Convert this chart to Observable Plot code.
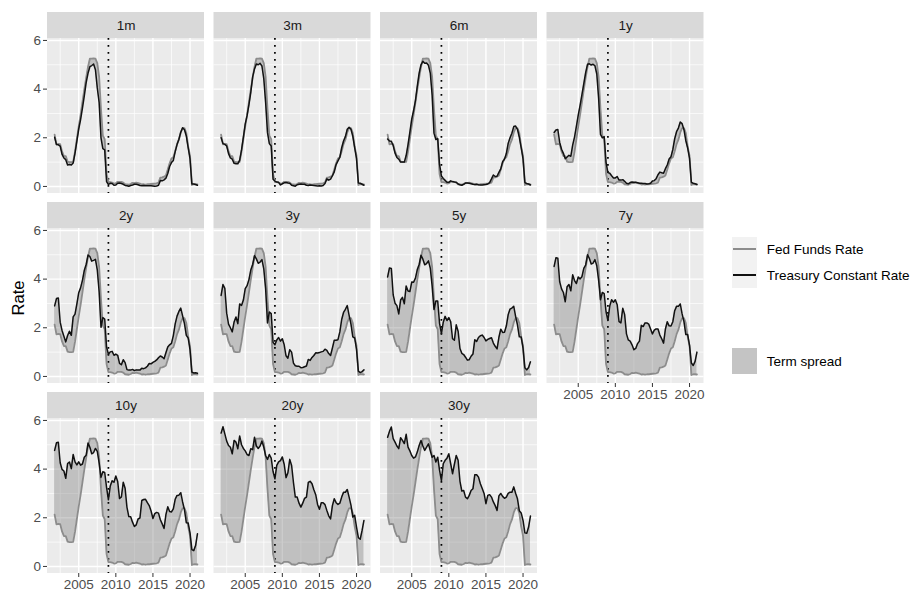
<!DOCTYPE html>
<html>
<head>
<meta charset="utf-8">
<script src="https://cdn.jsdelivr.net/npm/d3@7"></script>
<script src="https://cdn.jsdelivr.net/npm/@observablehq/plot@0.6"></script>
<style>
  html, body { margin: 0; padding: 0; background: #ffffff; }
  #wrap { position: relative; width: 913px; height: 591px; font-family: "Liberation Sans", Arial, Helvetica, sans-serif; }
  #chart { position: absolute; left: 0; top: 0; }
  .ytitle { position: absolute; left: 17.5px; top: 298px; transform: translate(-50%, -50%) rotate(-90deg); font-size: 16.5px; color: #000; white-space: nowrap; }
  .legend-row { position: absolute; left: 731.5px; height: 25.7px; display: flex; align-items: center; }
  .key { width: 25.7px; height: 25.7px; background: #F2F2F2; position: relative; flex: none; }
  .key .ln { position: absolute; left: 1.5px; right: 1.5px; top: 50%; height: 2px; margin-top: -1px; }
  .key .fl { position: absolute; left: 0; right: 0; top: 0; bottom: 0; }
  .lab { margin-left: 9.5px; font-size: 13.5px; color: #000; white-space: nowrap; }
</style>
</head>
<body>
<div id="wrap">
  <div id="chart"></div>
  <div class="ytitle">Rate</div>
</div>
<script>
// ---- data (quarterly averages, quarter start dates) ----
const quarters = [
  2001.75,
  2002, 2002.25, 2002.5, 2002.75,
  2003, 2003.25, 2003.5, 2003.75,
  2004, 2004.25, 2004.5, 2004.75,
  2005, 2005.25, 2005.5, 2005.75,
  2006, 2006.25, 2006.5, 2006.75,
  2007, 2007.25, 2007.5, 2007.75,
  2008, 2008.25, 2008.5, 2008.75,
  2009, 2009.25, 2009.5, 2009.75,
  2010, 2010.25, 2010.5, 2010.75,
  2011, 2011.25, 2011.5, 2011.75,
  2012, 2012.25, 2012.5, 2012.75,
  2013, 2013.25, 2013.5, 2013.75,
  2014, 2014.25, 2014.5, 2014.75,
  2015, 2015.25, 2015.5, 2015.75,
  2016, 2016.25, 2016.5, 2016.75,
  2017, 2017.25, 2017.5, 2017.75,
  2018, 2018.25, 2018.5, 2018.75,
  2019, 2019.25, 2019.5, 2019.75,
  2020, 2020.25, 2020.5, 2020.75,
  2021
];

const fedFunds = [
  2.13,
  1.73, 1.75, 1.74, 1.44,
  1.25, 1.25, 1.02, 1.00,
  1.00, 1.01, 1.43, 1.95,
  2.47, 2.94, 3.46, 3.98,
  4.46, 4.91, 5.25, 5.25,
  5.26, 5.25, 5.07, 4.50,
  3.18, 2.09, 1.94, 0.51,
  0.18, 0.18, 0.16, 0.12,
  0.13, 0.19, 0.19, 0.19,
  0.16, 0.09, 0.08, 0.07,
  0.10, 0.15, 0.14, 0.16,
  0.14, 0.12, 0.08, 0.09,
  0.07, 0.09, 0.09, 0.10,
  0.11, 0.12, 0.13, 0.16,
  0.36, 0.37, 0.40, 0.45,
  0.70, 0.95, 1.15, 1.20,
  1.45, 1.74, 1.92, 2.22,
  2.40, 2.40, 2.19, 1.64,
  1.26, 0.06, 0.09, 0.09,
  0.08
];

const t1m = [
  2.02,
  1.72, 1.71, 1.66, 1.32,
  1.17, 1.10, 0.88, 0.90,
  0.88, 0.96, 1.37, 1.86,
  2.36, 2.75, 3.22, 3.72,
  4.27, 4.65, 4.92, 4.97,
  5.03, 4.80, 4.05, 3.45,
  2.00, 1.55, 1.50, 0.20,
  0.08, 0.13, 0.12, 0.05,
  0.06, 0.13, 0.14, 0.12,
  0.09, 0.04, 0.03, 0.01,
  0.04, 0.06, 0.09, 0.09,
  0.07, 0.04, 0.03, 0.04,
  0.03, 0.03, 0.03, 0.03,
  0.02, 0.01, 0.02, 0.05,
  0.24, 0.23, 0.27, 0.34,
  0.53, 0.82, 0.98, 1.07,
  1.43, 1.72, 1.94, 2.23,
  2.41, 2.33, 2.07, 1.60,
  1.13, 0.10, 0.10, 0.08,
  0.05
];

const t3m = [
  2.00,
  1.76, 1.73, 1.66, 1.35,
  1.17, 1.12, 0.95, 0.93,
  0.93, 1.08, 1.50, 2.03,
  2.57, 2.91, 3.36, 3.87,
  4.50, 4.83, 5.03, 5.00,
  5.06, 4.95, 4.43, 3.44,
  2.21, 1.76, 1.66, 0.30,
  0.22, 0.18, 0.17, 0.06,
  0.11, 0.15, 0.16, 0.14,
  0.13, 0.05, 0.03, 0.01,
  0.07, 0.09, 0.10, 0.09,
  0.09, 0.05, 0.04, 0.06,
  0.05, 0.04, 0.03, 0.02,
  0.03, 0.02, 0.04, 0.12,
  0.31, 0.26, 0.30, 0.44,
  0.60, 0.90, 1.05, 1.20,
  1.59, 1.87, 2.05, 2.35,
  2.43, 2.35, 2.06, 1.59,
  1.14, 0.14, 0.13, 0.09,
  0.05
];

const t6m = [
  1.95,
  1.87, 1.86, 1.68, 1.37,
  1.19, 1.12, 1.00, 1.00,
  1.00, 1.27, 1.72, 2.23,
  2.77, 3.12, 3.53, 4.12,
  4.66, 5.00, 5.14, 5.06,
  5.07, 4.98, 4.66, 3.75,
  2.19, 1.93, 1.96, 0.91,
  0.43, 0.33, 0.25, 0.17,
  0.17, 0.23, 0.20, 0.18,
  0.17, 0.10, 0.07, 0.05,
  0.09, 0.14, 0.14, 0.13,
  0.11, 0.09, 0.08, 0.09,
  0.07, 0.06, 0.06, 0.07,
  0.08, 0.10, 0.16, 0.31,
  0.47, 0.41, 0.42, 0.58,
  0.72, 1.02, 1.12, 1.35,
  1.77, 2.00, 2.19, 2.46,
  2.48, 2.35, 2.02, 1.60,
  1.13, 0.16, 0.12, 0.10,
  0.06
];

const t1y = [
  2.22,
  2.32, 2.34, 1.81, 1.53,
  1.36, 1.14, 1.21, 1.28,
  1.24, 1.70, 2.03, 2.47,
  2.93, 3.33, 3.77, 4.23,
  4.68, 5.02, 5.04, 4.99,
  5.02, 4.96, 4.62, 3.62,
  2.14, 2.00, 2.05, 0.99,
  0.57, 0.54, 0.44, 0.35,
  0.35, 0.41, 0.26, 0.26,
  0.28, 0.21, 0.13, 0.11,
  0.16, 0.18, 0.17, 0.17,
  0.15, 0.13, 0.13, 0.12,
  0.12, 0.10, 0.11, 0.13,
  0.22, 0.24, 0.32, 0.48,
  0.59, 0.56, 0.54, 0.73,
  0.88, 1.13, 1.22, 1.52,
  1.96, 2.25, 2.40, 2.65,
  2.58, 2.33, 1.88, 1.58,
  1.15, 0.17, 0.13, 0.11,
  0.08
];

const t2y = [
  2.90,
  3.20, 3.22, 2.23, 1.89,
  1.65, 1.42, 1.68, 1.86,
  1.69, 2.45, 2.56, 2.98,
  3.44, 3.64, 3.95, 4.36,
  4.60, 4.99, 4.93, 4.74,
  4.77, 4.81, 4.38, 3.48,
  2.02, 2.42, 2.36, 1.21,
  0.91, 1.01, 1.03, 0.87,
  0.92, 0.87, 0.54, 0.48,
  0.69, 0.57, 0.28, 0.26,
  0.26, 0.29, 0.24, 0.27,
  0.26, 0.26, 0.34, 0.32,
  0.35, 0.42, 0.53, 0.52,
  0.58, 0.62, 0.68, 0.77,
  0.84, 0.80, 0.73, 0.97,
  1.21, 1.30, 1.36, 1.68,
  2.16, 2.48, 2.67, 2.81,
  2.49, 2.17, 1.69, 1.58,
  1.09, 0.18, 0.14, 0.15,
  0.13
];

const t3y = [
  3.33,
  3.78, 3.62, 2.60, 2.15,
  2.00, 1.83, 2.24, 2.44,
  2.17, 2.98, 2.92, 3.14,
  3.61, 3.73, 3.98, 4.37,
  4.60, 4.96, 4.83, 4.65,
  4.70, 4.80, 4.42, 3.60,
  2.20, 2.65, 2.58, 1.40,
  1.30, 1.50, 1.60, 1.45,
  1.55, 1.30, 0.85, 0.75,
  1.10, 1.00, 0.55, 0.44,
  0.42, 0.42, 0.36, 0.37,
  0.40, 0.43, 0.70, 0.66,
  0.78, 0.86, 0.97, 0.96,
  0.98, 1.01, 1.03, 1.12,
  1.07, 0.94, 0.86, 1.17,
  1.49, 1.49, 1.51, 1.83,
  2.34, 2.63, 2.76, 2.91,
  2.51, 2.15, 1.63, 1.58,
  1.11, 0.22, 0.16, 0.20,
  0.27
];

const t5y = [
  4.09,
  4.46, 4.44, 3.35, 3.01,
  2.91, 2.57, 3.14, 3.25,
  2.99, 3.72, 3.51, 3.49,
  3.88, 3.87, 4.04, 4.39,
  4.60, 4.98, 4.82, 4.59,
  4.64, 4.75, 4.45, 3.72,
  2.75, 3.10, 3.10, 2.18,
  1.76, 2.23, 2.47, 2.30,
  2.42, 2.25, 1.55, 1.49,
  2.12, 1.86, 1.15, 0.95,
  0.90, 0.79, 0.67, 0.69,
  0.83, 0.92, 1.51, 1.44,
  1.60, 1.67, 1.70, 1.60,
  1.46, 1.52, 1.56, 1.59,
  1.37, 1.24, 1.13, 1.61,
  1.94, 1.81, 1.82, 2.07,
  2.54, 2.77, 2.81, 2.88,
  2.47, 2.12, 1.63, 1.62,
  1.16, 0.36, 0.27, 0.37,
  0.60
];

const t7y = [
  4.52,
  4.88, 4.86, 3.89, 3.60,
  3.45, 3.07, 3.69, 3.78,
  3.52, 4.18, 3.94, 3.82,
  4.09, 4.01, 4.10, 4.44,
  4.58, 5.00, 4.85, 4.62,
  4.66, 4.80, 4.55, 3.95,
  3.15, 3.45, 3.40, 2.65,
  2.30, 2.90, 3.15, 3.05,
  3.15, 2.95, 2.25, 2.20,
  2.80, 2.55, 1.75, 1.50,
  1.45, 1.30, 1.10, 1.15,
  1.35, 1.45, 2.10, 2.05,
  2.20, 2.20, 2.15, 1.95,
  1.75, 1.90, 1.95, 1.95,
  1.70, 1.55, 1.37, 1.95,
  2.25, 2.08, 2.07, 2.25,
  2.70, 2.88, 2.88, 2.98,
  2.57, 2.25, 1.72, 1.72,
  1.28, 0.55, 0.45, 0.62,
  1.00
];

const t10y = [
  4.77,
  5.08, 5.10, 4.26, 3.99,
  3.92, 3.62, 4.23, 4.29,
  4.02, 4.60, 4.30, 4.17,
  4.30, 4.16, 4.21, 4.49,
  4.57, 5.07, 4.90, 4.63,
  4.68, 4.85, 4.73, 4.26,
  3.66, 3.89, 3.86, 3.25,
  2.74, 3.31, 3.52, 3.46,
  3.72, 3.49, 2.79, 2.86,
  3.46, 3.21, 2.43, 2.05,
  2.04, 1.82, 1.64, 1.71,
  1.95, 1.99, 2.71, 2.75,
  2.76, 2.62, 2.50, 2.28,
  1.97, 2.17, 2.22, 2.19,
  1.92, 1.75, 1.56, 2.13,
  2.45, 2.26, 2.24, 2.37,
  2.76, 2.92, 2.93, 3.03,
  2.65, 2.33, 1.80, 1.79,
  1.38, 0.69, 0.65, 0.86,
  1.34
];

const t20y = [
  5.48,
  5.74, 5.45, 5.15, 4.97,
  4.90, 4.63, 5.18, 5.11,
  4.84, 5.36, 5.00, 4.85,
  4.75, 4.60, 4.56, 4.84,
  4.80, 5.31, 4.95, 4.85,
  4.95, 5.15, 4.90, 4.55,
  4.40, 4.60, 4.45, 3.90,
  3.60, 4.15, 4.30, 4.35,
  4.50, 4.20, 3.65, 3.85,
  4.40, 4.15, 3.45, 2.85,
  2.85, 2.60, 2.44, 2.60,
  2.80, 2.85, 3.45, 3.50,
  3.40, 3.15, 2.95, 2.55,
  2.35, 2.62, 2.62, 2.54,
  2.30, 2.08, 1.95, 2.50,
  2.78, 2.62, 2.55, 2.60,
  2.85, 3.05, 3.05, 3.16,
  2.85, 2.52, 2.03, 2.10,
  1.62, 1.18, 1.12, 1.48,
  1.89
];

const t30y = [
  5.31,
  5.55, 5.73, 5.25, 5.11,
  4.95, 4.84, 5.29, 5.18,
  5.05, 5.43, 4.90, 4.75,
  4.56, 4.45, 4.50, 4.70,
  4.97, 5.18, 4.95, 4.77,
  4.90, 5.04, 4.75, 4.49,
  4.56, 4.29, 4.49, 3.95,
  3.53, 4.22, 4.36, 4.45,
  4.63, 4.22, 3.81, 4.20,
  4.56, 4.36, 3.50, 3.10,
  3.12, 2.85, 2.78, 2.92,
  3.12, 3.19, 3.77, 3.77,
  3.67, 3.40, 3.20, 3.00,
  2.58, 2.92, 2.95, 2.85,
  2.65, 2.50, 2.30, 2.90,
  3.00, 2.88, 2.80, 2.85,
  3.00, 3.05, 3.05, 3.27,
  3.01, 2.78, 2.29, 2.20,
  1.89, 1.38, 1.36, 1.62,
  2.07
];

const panelLabels = ["1m", "3m", "6m", "1y", "2y", "3y", "5y", "7y", "10y", "20y", "30y"];
const treasurySeries = [t1m, t3m, t6m, t1y, t2y, t3y, t5y, t7y, t10y, t20y, t30y];

const xTicks = [2005, 2010, 2015, 2020];
const xMinor = [2002.5, 2007.5, 2012.5, 2017.5];
const yTicks = [0, 2, 4, 6];
const yMinor = [1, 3, 5];
const crisisDate = 2009;

const legendItems = ["Fed Funds Rate", "Treasury Constant Rate"];
const spreadLabel = "Term spread";

// ---- build tables ----
const NCOL = 4;
const panels = panelLabels.map((label, i) => ({label, fx: i % NCOL, fy: Math.floor(i / NCOL), tr: treasurySeries[i]}));
const rows = panels.flatMap(p => quarters.map((t, j) => ({fx: p.fx, fy: p.fy, t, fed: fedFunds[j], tr: p.tr[j]})));

const xDom = [2000.79, 2021.95];
const yDom = [-0.29, 6.08];
const panelH = 155, panelW = 157;
const unitY = (yDom[1] - yDom[0]) / panelH;  // data units per pixel
const unitX = (xDom[1] - xDom[0]) / panelW;
const xMid = (xDom[0] + xDom[1]) / 2;

const cross = (ps, vals) => ps.flatMap(p => vals.map(v => ({fx: p.fx, fy: p.fy, v})));
const gridXMajor = cross(panels, xTicks);
const gridXMinor = cross(panels, xMinor);
const gridYMajor = cross(panels, yTicks);
const gridYMinor = cross(panels, yMinor);
const yAxisPanels = panels.filter(p => p.fx === 0);
const xAxisPanels = panels.filter(p => !panels.some(q => q.fx === p.fx && q.fy === p.fy + 1));
const yAxisData = cross(yAxisPanels, yTicks);
const xAxisData = cross(xAxisPanels, xTicks);

const FONT = '"Liberation Sans", Arial, Helvetica, sans-serif';
const fedColor = "#8c8c8c";
const trColor = "#111111";
const spreadFill = "#808080";
const spreadOpacity = 0.4;

const chart = Plot.plot({
  width: 710,
  height: 591,
  marginTop: 38,
  marginLeft: 47,
  marginRight: 6.5,
  marginBottom: 18,
  x: {domain: xDom, axis: null},
  y: {domain: yDom, axis: null},
  fx: {domain: [0, 1, 2, 3], paddingInner: 9.5 / 166.5, paddingOuter: 0, round: false, axis: null},
  fy: {domain: [0, 1, 2], paddingInner: 35 / 190, paddingOuter: 0, round: false, axis: null},
  style: {fontFamily: FONT, fontSize: "13.5px", background: "transparent", overflow: "visible"},
  marks: [
    // panel backgrounds
    Plot.rect(panels, {fx: "fx", fy: "fy", x1: () => xDom[0], x2: () => xDom[1], y1: () => yDom[0], y2: () => yDom[1], fill: "#EBEBEB"}),
    // minor grid
    Plot.ruleX(gridXMinor, {fx: "fx", fy: "fy", x: "v", stroke: "#ffffff", strokeWidth: 0.7}),
    Plot.ruleY(gridYMinor, {fx: "fx", fy: "fy", y: "v", stroke: "#ffffff", strokeWidth: 0.7}),
    // major grid
    Plot.ruleX(gridXMajor, {fx: "fx", fy: "fy", x: "v", stroke: "#ffffff", strokeWidth: 1.4}),
    Plot.ruleY(gridYMajor, {fx: "fx", fy: "fy", y: "v", stroke: "#ffffff", strokeWidth: 1.4}),
    // strips
    Plot.rect(panels, {fx: "fx", fy: "fy", x1: () => xDom[0], x2: () => xDom[1], y1: () => yDom[1], y2: () => yDom[1] + 26 * unitY, fill: "#D9D9D9"}),
    Plot.text(panels, {fx: "fx", fy: "fy", x: () => xMid, y: () => yDom[1] + 13 * unitY, text: "label", fill: "#1A1A1A", fontSize: 13.5}),
    // term spread
    Plot.areaY(rows, {fx: "fx", fy: "fy", x: "t", y1: "fed", y2: "tr", fill: spreadFill, fillOpacity: spreadOpacity}),
    // crisis marker
    Plot.ruleX(panels, {fx: "fx", fy: "fy", x: () => crisisDate, stroke: "#000", strokeWidth: 1.7, strokeDasharray: "1.7,5.3"}),
    // lines
    Plot.lineY(rows, {fx: "fx", fy: "fy", x: "t", y: "fed", stroke: fedColor, strokeWidth: 1.8}),
    Plot.lineY(rows, {fx: "fx", fy: "fy", x: "t", y: "tr", stroke: trColor, strokeWidth: 1.5}),
    // y axis
    Plot.ruleY(yAxisData, {fx: "fx", fy: "fy", y: "v", x1: () => xDom[0] - 4 * unitX, x2: () => xDom[0], stroke: "#333333", strokeWidth: 1}),
    Plot.text(yAxisData, {fx: "fx", fy: "fy", y: "v", x: () => xDom[0], dx: -6.5, textAnchor: "end", text: d => String(d.v), fill: "#4D4D4D", fontSize: 13.5}),
    // x axis
    Plot.ruleX(xAxisData, {fx: "fx", fy: "fy", x: "v", y1: () => yDom[0], y2: () => yDom[0] - 4 * unitY, stroke: "#333333", strokeWidth: 1}),
    Plot.text(xAxisData, {fx: "fx", fy: "fy", x: "v", y: () => yDom[0], dy: 6, lineAnchor: "top", text: d => String(d.v), fill: "#4D4D4D", fontSize: 13.5})
  ]
});
document.getElementById("chart").appendChild(chart);

// ---- legend (HTML) ----
const wrap = document.getElementById("wrap");
const legendTops = [236.6, 262.3];
legendItems.forEach((name, i) => {
  const row = document.createElement("div");
  row.className = "legend-row";
  row.style.top = legendTops[i] + "px";
  const key = document.createElement("div");
  key.className = "key";
  const ln = document.createElement("div");
  ln.className = "ln";
  ln.style.background = i === 0 ? fedColor : trColor;
  key.appendChild(ln);
  const lab = document.createElement("span");
  lab.className = "lab";
  lab.textContent = name;
  row.appendChild(key);
  row.appendChild(lab);
  wrap.appendChild(row);
});
{
  const row = document.createElement("div");
  row.className = "legend-row";
  row.style.top = "348.3px";
  const key = document.createElement("div");
  key.className = "key";
  const fl = document.createElement("div");
  fl.className = "fl";
  fl.style.background = spreadFill;
  fl.style.opacity = spreadOpacity;
  key.appendChild(fl);
  const lab = document.createElement("span");
  lab.className = "lab";
  lab.textContent = spreadLabel;
  row.appendChild(key);
  row.appendChild(lab);
  wrap.appendChild(row);
}
</script>
</body>
</html>
